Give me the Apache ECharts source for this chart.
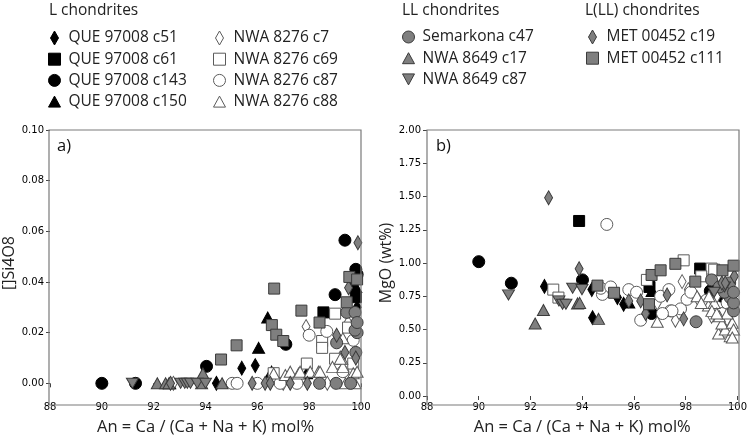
<!DOCTYPE html>
<html>
<head>
<meta charset="utf-8">
<script src="https://cdn.jsdelivr.net/npm/echarts@6/dist/echarts.min.js"></script>
<style>html,body{margin:0;padding:0;background:#fff}#c{width:750px;height:441px}</style>
</head>
<body>
<div id="c"></div>
<script>
// ---- tick labels ----
const xTicks = [88, 90, 92, 94, 96, 98, 100];
const siTicks = [0, 0.02, 0.04, 0.06, 0.08, 0.10];
const mgoTicks = [0, 0.25, 0.5, 0.75, 1.0, 1.25, 1.5, 1.75, 2.0];

// ---- series names ----
const seriesNames = [
  'QUE 97008 c51', 'QUE 97008 c61', 'QUE 97008 c143', 'QUE 97008 c150',
  'NWA 8276 c7', 'NWA 8276 c69', 'NWA 8276 c87', 'NWA 8276 c88',
  'Semarkona c47', 'NWA 8649 c17', 'NWA 8649 c87',
  'MET 00452 c19', 'MET 00452 c111'
];

// ---- panel a: [An, []Si4O8] ----
const que51_a = [[94.42,0],[95.4,0.006],[95.92,0.007],[99.75,0.036],[99.85,0.03]];
const que61_a = [[98.55,0.028],[99.8,0.034]];
const que143_a = [[90.0,0],[91.3,0],[94.04,0.0067],[97.1,0.0154],[99.0,0.035],[99.38,0.0565],[99.8,0.045],[99.85,0.043],[99.7,0.04]];
const que150_a = [[92.62,0],[96.05,0.014],[96.4,0.026],[96.55,0.0046],[99.8,0.038],[97.9,0.004]];
const nwa7_a = [[92.76,0],[97.88,0.0224],[97.0,0],[99.2,0.01],[98.7,0],[99.6,0.005],[99.5,0.024]];
const nwa69_a = [[96.63,0.004],[97.91,0.0078],[98.5,0.0167],[98.5,0.014],[99.0,0.0275],[99.0,0.0097],[99.7,0.0078],[99.5,0.022]];
const nwa87_a = [[95.03,0],[95.22,0],[96.0,0],[96.88,0],[97.53,0],[98.68,0.0205],[99.3,0.0046],[99.7,0.017],[98.0,0.019]];
const nwa88_a = [[96.63,0.0039],[97.08,0.0033],[97.27,0.0046],[97.59,0.0039],[97.65,0.0046],[98.04,0.0046],[98.36,0.0046],[98.42,0.0046],[98.9,0.0065],[99.26,0.0097],[99.3,0.0065],[99.4,0],[99.77,0],[99.7,0.004],[99.3,0.0178],[99.85,0.0046],[99.2,0.0097]];
const sem47_a = [[98.4,0],[99.04,0],[99.06,0.016],[99.45,0.028],[99.77,0.028],[99.85,0.02],[99.8,0.0122],[99.77,0.021],[99.85,0.024],[99.6,0]];
const nwa17_a = [[92.14,0],[92.46,0],[92.59,0],[93.85,0],[93.9,0.0039],[94.64,0]];
const nwa8649c87_a = [[91.18,0],[93.04,0],[93.2,0],[93.3,0],[93.42,0],[93.68,0],[94.0,0]];
const met19_a = [[92.65,0],[95.8,0],[96.3,0],[96.5,0],[97.27,0],[97.93,0],[99.06,0.019],[99.38,0.0122],[99.52,0.0377],[99.88,0.0555],[99.8,0.01]];
const met111_a = [[94.6,0.0094],[95.2,0.015],[96.65,0.0374],[96.56,0.023],[96.73,0.0192],[97.0,0.0167],[97.7,0.0287],[98.4,0.024],[99.45,0.032],[99.55,0.042],[99.85,0.041]];

// ---- panel b: [An, MgO wt%] ----
const que51_b = [[92.54,0.824],[94.37,0.8],[94.4,0.589],[95.36,0.74],[95.6,0.69],[99.5,0.78]];
const que61_b = [[93.88,1.316],[98.56,0.958],[96.6,0.82]];
const que143_b = [[90.0,1.01],[91.26,0.848],[94.01,0.873],[96.68,0.62],[98.95,0.79],[99.1,0.8],[99.4,0.75]];
const que150_b = [[95.8,0.703],[96.7,0.79]];
const nwa7_b = [[97.86,0.86],[97.6,0.57],[98.5,0.72],[99.2,0.75],[99.6,0.58],[96.9,0.7],[98.1,0.8],[99.0,0.6]];
const nwa69_b = [[92.88,0.8],[93.08,0.74],[96.5,0.873],[97.92,1.02],[99.0,0.958],[98.6,0.9],[99.1,0.95]];
const nwa87_b = [[94.95,1.29],[94.78,0.764],[94.72,0.81],[95.1,0.82],[95.8,0.8],[96.26,0.57],[97.03,0.75],[97.35,0.8],[97.41,0.64],[97.8,0.655],[98.05,0.727],[97.47,0.64],[99.4,0.62],[99.6,0.7],[98.2,0.78],[98.8,0.72],[97.1,0.62],[96.1,0.78]];
const nwa88_b = [[96.9,0.558],[98.44,0.75],[98.88,0.68],[99.1,0.7],[99.46,0.485],[99.72,0.45],[99.27,0.47],[99.53,0.5],[99.4,0.545],[99.01,0.64],[99.3,0.6],[99.8,0.55],[99.6,0.62],[98.9,0.75],[99.2,0.62],[99.85,0.5],[99.8,0.44],[98.6,0.7]];
const sem47_b = [[98.4,0.558],[99.0,0.873],[99.7,0.85],[99.72,0.74],[99.85,0.64],[99.85,0.7],[99.5,0.78],[99.3,0.82],[99.85,0.78]];
const nwa17_b = [[92.18,0.545],[92.5,0.647],[93.82,0.696],[94.63,0.58],[93.9,0.7]];
const nwa8649c87_b = [[91.15,0.76],[93.1,0.715],[93.24,0.69],[93.37,0.69],[93.63,0.81],[93.99,0.8],[99.1,0.78],[99.5,0.82]];
const met19_b = [[92.7,1.49],[93.88,0.957],[95.8,0.715],[96.26,0.715],[96.45,0.62],[97.28,0.76],[97.92,0.58],[99.4,0.85],[99.53,0.85],[99.88,0.9]];
const met111_b = [[94.59,0.83],[95.23,0.776],[96.58,0.69],[96.68,0.91],[97.03,0.945],[97.6,0.994],[98.37,0.86],[99.42,0.945],[99.85,0.98]];

const dataA = [que51_a, que61_a, que143_a, que150_a, nwa7_a, nwa69_a, nwa87_a, nwa88_a, sem47_a, nwa17_a, nwa8649c87_a, met19_a, met111_a];
const dataB = [que51_b, que61_b, que143_b, que150_b, nwa7_b, nwa69_b, nwa87_b, nwa88_b, sem47_b, nwa17_b, nwa8649c87_b, met19_b, met111_b];

// ---- styles ----
const DOWN = 'path://M0,0L12,0L6,11Z';
const UP = 'path://M6,0L12,11L0,11Z';
const DIAM = 'path://M4,0L8,7L4,14L0,7Z';
const SQ = 'path://M0,0L11,0L11,11L0,11Z';
const shapes = {
  diamond: {symbol: 'diamond', size: [8, 14], legend: DIAM},
  square: {symbol: 'rect', size: 11, legend: SQ},
  circle: {symbol: 'circle', size: 12, legend: 'circle'},
  tri: {symbol: 'triangle', size: [12, 11], legend: UP},
  down: {symbol: DOWN, size: [12, 11], legend: DOWN}
};
const fills = {
  black: {color: '#000000', borderColor: '#000000'},
  white: {color: '#ffffff', borderColor: '#5a5a5a'},
  gray: {color: '#7f7f7f', borderColor: '#3a3a3a'}
};
const styleOf = [
  ['diamond','black'],['square','black'],['circle','black'],['tri','black'],
  ['diamond','white'],['square','white'],['circle','white'],['tri','white'],
  ['circle','gray'],['tri','gray'],['down','gray'],
  ['diamond','gray'],['square','gray']
];

const series = [];
[dataA, dataB].forEach((set, gi) => {
  set.forEach((d, i) => {
    const sh = shapes[styleOf[i][0]], f = fills[styleOf[i][1]];
    series.push({
      type: 'scatter', name: seriesNames[i], xAxisIndex: gi, yAxisIndex: gi,
      data: d, symbol: sh.symbol, symbolSize: sh.size, symbolKeepAspect: true,
      itemStyle: {color: f.color, borderColor: f.borderColor, borderWidth: 1, opacity: 1},
      emphasis: {disabled: true}, animation: false, clip: false
    });
  });
});

function legendData(idx) {
  return idx.map(i => ({
    name: seriesNames[i], icon: shapes[styleOf[i][0]].legend,
    itemStyle: {color: fills[styleOf[i][1]].color, borderColor: fills[styleOf[i][1]].borderColor, borderWidth: 1}
  }));
}
const legTxt = {fontFamily: 'Open Sans', fontSize: 15.5, color: '#222', padding: [0, 0, 0, 3]};
function mkLegend(left, top, idx) {
  return {left: left, top: top, padding: 0, orient: 'vertical', itemWidth: 12, itemHeight: 14, itemGap: 5.2,
    symbolKeepAspect: true, selectedMode: false, data: legendData(idx), textStyle: legTxt};
}

const axisLbl = {fontFamily: 'DejaVu Sans', fontSize: 10, color: '#000'};
function xAx(gi) {
  return {type: 'value', gridIndex: gi, min: 88, max: 100, interval: 2,
    name: 'An = Ca / (Ca + Na + K) mol%', nameLocation: 'middle', nameGap: 23,
    nameTextStyle: {fontFamily: 'Open Sans', fontSize: 16.5, color: '#222'},
    axisLine: {show: false}, splitLine: {show: false},
    axisTick: {show: true, length: 4, lineStyle: {color: '#444'}},
    axisLabel: Object.assign({margin: 6, formatter: v => String(v)}, axisLbl)};
}
const ttl = {fontFamily: 'Open Sans', fontSize: 15.5, fontWeight: 'normal', color: '#222'};

const option = {
  animation: false,
  textStyle: {fontFamily: 'Open Sans'},
  title: [
    {text: 'L chondrites', left: 49, top: 3, padding: 0, textStyle: ttl},
    {text: 'LL chondrites', left: 402, top: 3, padding: 0, textStyle: ttl},
    {text: 'L(LL) chondrites', left: 585, top: 3, padding: 0, textStyle: ttl},
    {text: 'a)', left: 57, top: 138, padding: 0, textStyle: {fontFamily: 'Open Sans', fontSize: 16.5, fontWeight: 'normal', color: '#111'}},
    {text: 'b)', left: 436, top: 138, padding: 0, textStyle: {fontFamily: 'Open Sans', fontSize: 16.5, fontWeight: 'normal', color: '#111'}}
  ],
  legend: [
    mkLegend(48, 30, [0, 1, 2, 3]),
    mkLegend(213, 30, [4, 5, 6, 7]),
    mkLegend(402, 29, [8, 9, 10]),
    mkLegend(586, 29, [11, 12])
  ],
  grid: [
    {left: 49, top: 130, width: 312, height: 275, show: false},
    {left: 427, top: 130, width: 312, height: 275, show: false}
  ],
  xAxis: [xAx(0), xAx(1)],
  yAxis: [
    {type: 'value', gridIndex: 0, min: -0.005, max: 0.1,
      name: '[]Si4O8', nameLocation: 'middle', nameGap: 33,
      nameTextStyle: {fontFamily: 'Open Sans', fontSize: 16, color: '#222'},
      axisLine: {show: false}, splitLine: {show: false},
      axisTick: {show: true, length: 4, lineStyle: {color: '#444'}, customValues: siTicks},
      axisLabel: Object.assign({margin: 6, customValues: siTicks, formatter: v => v.toFixed(2)}, axisLbl)},
    {type: 'value', gridIndex: 1, min: 0, max: 2, interval: 0.25,
      name: 'MgO (wt%)', nameLocation: 'middle', nameGap: 32,
      nameTextStyle: {fontFamily: 'Open Sans', fontSize: 16, color: '#222'},
      axisLine: {show: false}, splitLine: {show: false},
      axisTick: {show: true, length: 4, lineStyle: {color: '#444'}},
      axisLabel: Object.assign({margin: 6, formatter: v => v.toFixed(2)}, axisLbl)}
  ],
  graphic: [
    {type: 'rect', z: 101, shape: {x: 49, y: 130, width: 312, height: 275}, style: {fill: null, stroke: '#7a7a7a', lineWidth: 1.2}, silent: true},
    {type: 'rect', z: 101, shape: {x: 427, y: 130, width: 312, height: 275}, style: {fill: null, stroke: '#7a7a7a', lineWidth: 1.2}, silent: true}
  ],
  series: series
};

const chart = echarts.init(document.getElementById('c'), null, {renderer: 'canvas'});
chart.setOption(option);
</script>
</body>
</html>
